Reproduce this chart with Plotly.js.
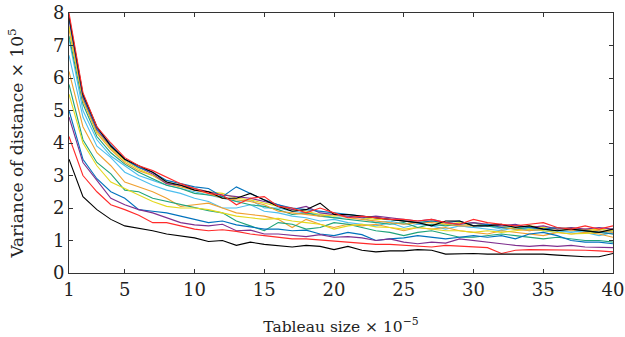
<!DOCTYPE html>
<html>
<head>
<meta charset="utf-8">
<script src="https://cdn.plot.ly/plotly-3.0.1.min.js"></script>
<style>html,body{margin:0;padding:0;background:#fff;}#chart{width:625px;height:337px;}</style>
</head>
<body>
<div id="chart"></div>
<script>
const tableauSize = [1,2,3,4,5,6,7,8,9,10,11,12,13,14,15,16,17,18,19,20,21,22,23,24,25,26,27,28,29,30,31,32,33,34,35,36,37,38,39,40];
const xTickVals = [1,5,10,15,20,25,30,35,40];
const xTickText = ['1','5','10','15','20','25','30','35','40'];

const blackLow  = [3.5,2.35,1.95,1.65,1.45,1.38,1.3,1.2,1.15,1.08,0.97,1.0,0.85,0.95,0.88,0.85,0.8,0.85,0.82,0.72,0.82,0.7,0.65,0.68,0.68,0.72,0.7,0.58,0.6,0.6,0.58,0.58,0.58,0.6,0.58,0.55,0.52,0.5,0.5,0.6];
const redLow    = [4.2,3.0,2.5,2.1,1.95,1.78,1.55,1.55,1.45,1.35,1.3,1.33,1.28,1.2,1.15,1.1,1.05,1.05,1.02,0.98,0.95,0.92,0.88,0.88,0.85,0.82,0.8,0.85,0.82,0.8,0.78,0.6,0.7,0.72,0.72,0.7,0.72,0.7,0.68,0.65];
const purpleLow = [4.8,3.4,2.85,2.3,2.1,1.95,1.85,1.7,1.55,1.48,1.45,1.5,1.3,1.32,1.2,1.2,1.15,1.12,1.18,1.1,1.12,1.08,1.0,1.05,0.95,0.9,0.95,0.92,1.05,1.0,0.95,0.88,0.85,0.82,0.85,0.82,0.85,0.8,0.8,0.78];
const blueLow   = [5.0,3.5,2.9,2.5,2.3,1.95,1.9,1.85,1.75,1.65,1.55,1.6,1.48,1.42,1.35,1.35,1.3,1.32,1.2,1.15,1.25,1.18,1.0,1.05,1.08,1.15,1.1,1.05,1.1,1.15,1.1,1.15,1.05,1.2,1.25,1.15,1.0,0.95,0.95,0.9];
const yellowLow = [5.5,4.0,3.3,2.8,2.6,2.4,2.2,2.05,2.0,2.0,1.95,1.85,1.75,1.7,1.65,1.68,1.6,1.55,1.5,1.35,1.45,1.5,1.42,1.4,1.35,1.4,1.35,1.3,1.3,1.25,1.3,1.25,1.3,1.35,1.3,1.25,1.2,1.22,1.25,1.2];
const greenLow  = [5.8,4.1,3.4,3.05,2.55,2.5,2.3,2.2,2.1,2.0,1.92,1.85,1.6,1.45,1.3,1.55,1.5,1.35,1.4,1.55,1.5,1.4,1.3,1.25,1.15,1.25,1.3,1.2,1.1,1.1,1.15,1.2,1.15,1.1,1.05,1.1,1.05,1.0,1.0,0.95];
const orangeLow = [6.2,4.5,3.7,3.3,2.8,2.65,2.5,2.3,2.05,2.1,2.15,2.0,1.85,1.8,1.75,1.65,1.4,1.65,1.5,1.4,1.5,1.45,1.5,1.4,1.3,1.4,1.35,1.4,1.3,1.25,1.2,1.3,1.25,1.2,1.15,1.25,1.2,1.25,1.2,1.1];
const cyanLow   = [6.7,4.8,3.9,3.55,3.1,2.9,2.7,2.55,2.45,2.3,2.2,2.0,2.0,2.1,1.9,1.85,1.75,1.7,1.6,1.65,1.55,1.5,1.45,1.55,1.4,1.5,1.45,1.35,1.45,1.4,1.35,1.3,1.4,1.35,1.3,1.25,1.3,1.25,1.15,1.25];
const cyanHigh  = [7.2,5.0,4.1,3.6,3.3,3.0,2.85,2.7,2.6,2.5,2.4,2.3,2.2,2.25,2.0,2.0,1.9,1.85,1.8,1.7,1.75,1.7,1.55,1.6,1.5,1.55,1.45,1.5,1.45,1.4,1.45,1.35,1.4,1.3,1.35,1.3,1.25,1.3,1.3,1.2];
const greenHigh = [7.3,5.2,4.2,3.7,3.35,3.1,2.9,2.7,2.6,2.45,2.4,2.35,2.2,2.1,2.05,1.95,1.8,1.85,1.75,1.7,1.65,1.6,1.55,1.5,1.55,1.4,1.5,1.45,1.5,1.55,1.45,1.4,1.35,1.4,1.35,1.3,1.35,1.3,1.25,1.3];
const orangeHigh= [7.5,5.3,4.3,3.8,3.4,3.15,3.0,2.75,2.65,2.55,2.45,2.3,2.25,2.2,2.1,1.9,1.85,1.8,1.75,1.8,1.7,1.65,1.6,1.55,1.5,1.55,1.55,1.5,1.45,1.45,1.5,1.4,1.35,1.3,1.35,1.4,1.3,1.35,1.3,1.25];
const yellowHigh= [7.6,5.35,4.35,3.85,3.45,3.2,3.0,2.8,2.7,2.6,2.5,2.45,2.3,2.25,2.15,2.05,1.95,1.9,1.8,1.75,1.8,1.7,1.65,1.65,1.6,1.55,1.6,1.5,1.55,1.45,1.5,1.45,1.4,1.45,1.4,1.35,1.4,1.3,1.35,1.3];
const purpleHigh= [7.8,5.4,4.4,3.9,3.5,3.25,3.05,2.75,2.7,2.6,2.5,2.4,2.35,2.3,2.2,2.1,1.95,2.05,1.85,1.8,1.75,1.7,1.75,1.7,1.65,1.6,1.65,1.55,1.5,1.55,1.5,1.45,1.5,1.4,1.45,1.35,1.4,1.35,1.4,1.35];
const blueHigh  = [7.85,5.45,4.45,3.95,3.5,3.25,3.1,2.85,2.75,2.65,2.6,2.35,2.65,2.45,2.25,2.1,2.0,1.95,1.9,1.85,1.8,1.75,1.7,1.65,1.6,1.55,1.6,1.55,1.6,1.45,1.5,1.4,1.45,1.4,1.35,1.4,1.35,1.3,1.25,1.2];
const blackHigh = [7.9,5.5,4.5,3.9,3.5,3.3,3.1,2.8,2.7,2.55,2.5,2.3,2.3,2.45,2.25,2.05,1.9,1.95,2.15,1.8,1.8,1.75,1.7,1.65,1.6,1.55,1.45,1.6,1.6,1.45,1.45,1.5,1.4,1.45,1.35,1.3,1.35,1.3,1.25,1.35];
const redHigh   = [8.0,5.55,4.5,4.0,3.55,3.3,3.15,2.95,2.75,2.6,2.45,2.4,2.1,2.3,2.35,2.05,2.0,1.85,2.0,1.85,1.7,1.75,1.7,1.65,1.65,1.6,1.65,1.55,1.5,1.65,1.55,1.5,1.45,1.5,1.55,1.4,1.35,1.45,1.35,1.45];

const C = {black:'#000000', red:'#FF2A2A', blue:'#0072BD', orange:'#F0A030', yellow:'#E4D81E', purple:'#7E2F8E', green:'#1FA37A', cyan:'#4DBEEE'};

const series = [
  [cyanLow, C.cyan],[orangeLow, C.orange],[greenLow, C.green],[yellowLow, C.yellow],
  [blueLow, C.blue],[purpleLow, C.purple],[redLow, C.red],[blackLow, C.black],
  [cyanHigh, C.cyan],[greenHigh, C.green],[orangeHigh, C.orange],[yellowHigh, C.yellow],
  [purpleHigh, C.purple],[blueHigh, C.blue],[blackHigh, C.black],[redHigh, C.red]
];

const traces = series.map(s => ({
  x: tableauSize, y: s[0], type: 'scatter', mode: 'lines',
  line: {color: s[1], width: 1.1}, showlegend: false, hoverinfo: 'none'
}));

const fam = '"DejaVu Serif", "Liberation Serif", serif';

const layout = {
  width: 625, height: 337,
  margin: {l: 69, r: 12, t: 13, b: 64},
  paper_bgcolor: '#fff', plot_bgcolor: '#fff',
  font: {family: fam, size: 16, color: '#222'},
  xaxis: {
    range: [1, 40], tickmode: 'array', tickvals: xTickVals, ticktext: xTickText,
    ticks: 'inside', ticklen: 4, tickcolor: '#333', mirror: 'ticks',
    showline: true, linecolor: '#333', linewidth: 1, showgrid: false, zeroline: false,
    tickfont: {family: fam, size: 18, color: '#222'},
    title: {text: 'Tableau size × 10<sup>−5</sup>', font: {family: fam, size: 15.5, color: '#222'}, standoff: 22}
  },
  yaxis: {
    range: [0, 8], dtick: 1,
    ticks: 'inside', ticklen: 4, tickcolor: '#333', mirror: 'ticks',
    showline: true, linecolor: '#333', linewidth: 1, showgrid: false, zeroline: false,
    tickfont: {family: fam, size: 18, color: '#222'},
    title: {text: 'Variance of distance × 10<sup>5</sup>', font: {family: fam, size: 17, color: '#222'}, standoff: 24}
  }
};

Plotly.newPlot('chart', traces, layout, {staticPlot: true, displayModeBar: false});
</script>
</body>
</html>
